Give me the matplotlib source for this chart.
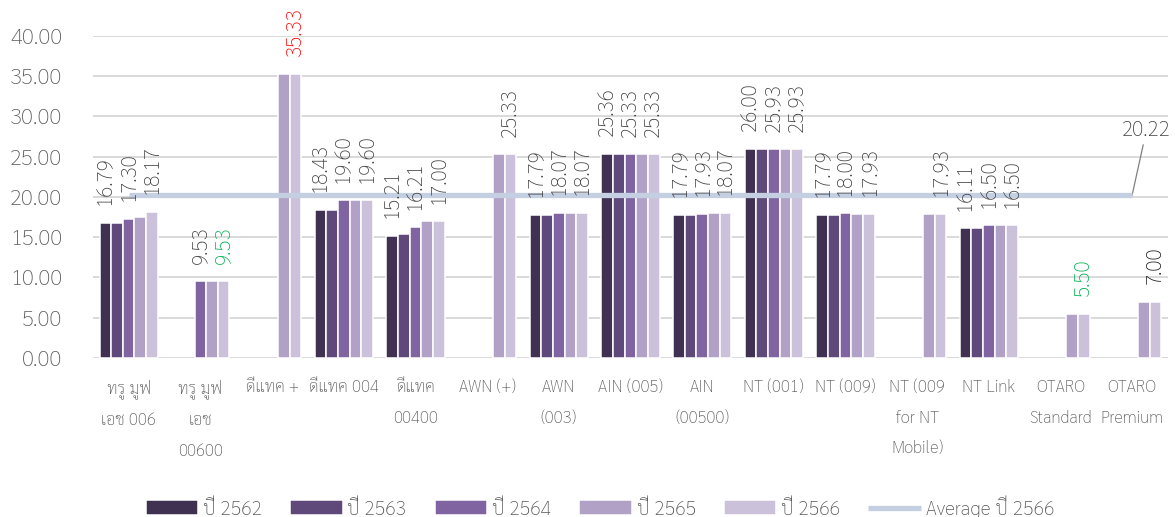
"""Grouped bar chart of yearly rates per service, with 2566 average line."""

import matplotlib

matplotlib.use("Agg")
import matplotlib.pyplot as plt
import numpy as np

nan = np.nan

CATEGORIES = [
    "ทรู มูฟ\nเอช 006",
    "ทรู มูฟ\nเอช\n00600",
    "ดีแทค +",
    "ดีแทค 004",
    "ดีแทค\n00400",
    "AWN (+)",
    "AWN\n(003)",
    "AIN (005)",
    "AIN\n(00500)",
    "NT (001)",
    "NT (009)",
    "NT (009\nfor NT\nMobile)",
    "NT Link",
    "OTARO\nStandard",
    "OTARO\nPremium",
]

SERIES_NAMES = ["ปี 2562", "ปี 2563", "ปี 2564", "ปี 2565", "ปี 2566"]
Y2562 = [16.79, nan, nan, 18.43, 15.21, nan, 17.79, 25.36, 17.79, 26.00, 17.79, nan, 16.11, nan, nan]
Y2563 = [16.79, nan, nan, 18.43, 15.40, nan, 17.79, 25.36, 17.79, 26.00, 17.79, nan, 16.11, nan, nan]
Y2564 = [17.30, 9.53, nan, 19.60, 16.21, nan, 18.07, 25.33, 17.93, 25.93, 18.00, nan, 16.50, nan, nan]
Y2565 = [17.46, 9.53, 35.33, 19.60, 17.00, 25.33, 18.07, 25.33, 18.07, 25.93, 17.93, 17.93, 16.50, 5.50, 7.00]
Y2566 = [18.17, 9.53, 35.33, 19.60, 17.00, 25.33, 18.07, 25.33, 18.07, 25.93, 17.93, 17.93, 16.50, 5.50, 7.00]
AVERAGE_2566 = 20.22
AVERAGE_NAME = "Average ปี 2566"

# only these series carry data labels in the original
LABELED = {"ปี 2562", "ปี 2564", "ปี 2566"}
# highlighted labels on the 2566 series (max red, min green)
HIGHLIGHT_2566 = {1: "#00b050", 2: "#ff0000", 13: "#00b050", 14: "#1a1a1a"}

COLORS = ["#403152", "#5f497a", "#8064a2", "#b2a1c7", "#ccc1da"]
AVG_COLOR = "#c5cfe2"
TEXT_GRAY = "#595959"
LABEL_GRAY = "#404040"

plt.rcParams["font.family"] = ["Sarabun", "DejaVu Sans"]
plt.rcParams["font.weight"] = "light"

fig = plt.figure(figsize=(11.75, 5.17), dpi=100)
ax = fig.add_axes([0.079, 0.3075, 0.915, 0.623])

x = np.arange(len(CATEGORIES))
series = [Y2562, Y2563, Y2564, Y2565, Y2566]
width = 0.1627
for i, (name, vals) in enumerate(zip(SERIES_NAMES, series)):
    xs = x + (i - 2) * width
    ax.bar(xs, vals, width, color=COLORS[i], edgecolor="white", linewidth=1.1,
           label=name, zorder=2)
    if name not in LABELED:
        continue
    for j, v in enumerate(vals):
        if np.isnan(v):
            continue
        c = LABEL_GRAY
        if name == "ปี 2566":
            c = HIGHLIGHT_2566.get(j, LABEL_GRAY)
        ax.annotate(f"{v:.2f}", (xs[j], v), xytext=(0, 12.5), textcoords="offset points",
                    rotation=90, ha="center", va="bottom", fontsize=15,
                    color=c, zorder=5)

ax.plot([x[0], x[-1]], [AVERAGE_2566] * 2, color=AVG_COLOR, lw=3.8,
        solid_capstyle="butt", label=AVERAGE_NAME, zorder=4)
ax.annotate(f"{AVERAGE_2566:.2f}", (x[-1], AVERAGE_2566), xytext=(14.2, 28.3),
            textcoords="data", ha="center", va="center", fontsize=15,
            color="#404040",
            arrowprops=dict(arrowstyle="-", color="#808080", lw=0.9,
                            shrinkA=1, shrinkB=0))

ax.set_xlim(-0.5, len(CATEGORIES) - 0.5)
ax.set_ylim(0, 40)
ax.set_yticks(np.arange(0, 41, 5))
ax.yaxis.set_major_formatter(matplotlib.ticker.StrMethodFormatter("{x:.2f}"))
ax.grid(axis="y", color="#d9d9d9", lw=1.4, zorder=0)
ax.set_axisbelow(True)
for s in ax.spines.values():
    s.set_visible(False)
ax.tick_params(axis="y", length=0, pad=22, labelsize=16, labelcolor=TEXT_GRAY)
ax.tick_params(axis="x", length=0, pad=15, labelsize=12, labelcolor=TEXT_GRAY)
ax.set_xticks(x)
ax.set_xticklabels(CATEGORIES, linespacing=2.05, va="top")

handles, labels = ax.get_legend_handles_labels()
order = [1, 2, 3, 4, 5, 0]
ax.legend([handles[k] for k in order], [labels[k] for k in order],
          loc="center", bbox_to_anchor=(0.4716, -0.462), ncol=6, frameon=False,
          fontsize=14, labelcolor=TEXT_GRAY, handlelength=2.7, handleheight=0.8,
          handletextpad=0.25, columnspacing=1.45)

fig.savefig("out.png", dpi=100)
